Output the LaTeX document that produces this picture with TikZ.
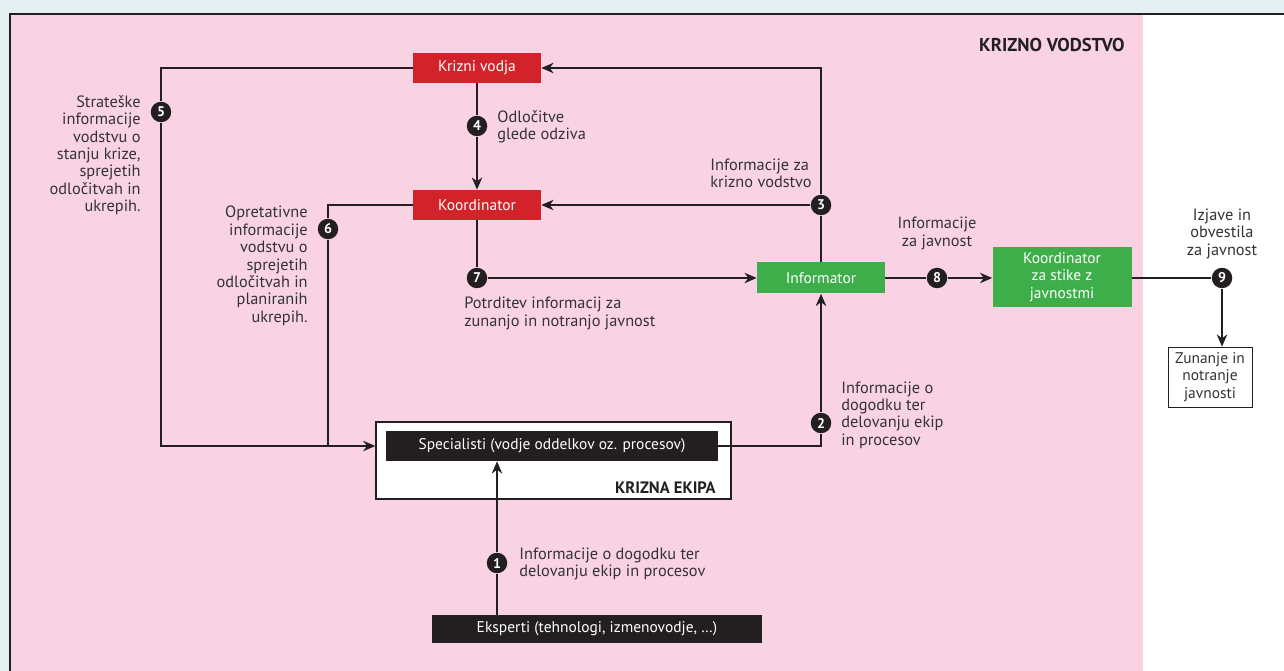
\documentclass[tikz,border=0pt]{standalone}
\usepackage{fontspec}
\setmainfont{PT Sans}
\usetikzlibrary{arrows.meta,positioning}
\definecolor{bgblue}{HTML}{E4F0F2}
\definecolor{pinkbg}{HTML}{F9D3E4}
\definecolor{kred}{HTML}{D2232A}
\definecolor{kgreen}{HTML}{3DAE49}
\definecolor{ink}{HTML}{231F20}
\definecolor{txt}{HTML}{333333}
\newcommand{\boxfont}{\fontsize{8.8}{9.9}\selectfont}
\newcommand{\lblfont}{\fontsize{9.3}{9.9}\selectfont}
\tikzset{
  redbox/.style={fill=kred, text=white, minimum width=2.56cm, minimum height=0.6cm, inner sep=0pt, font=\boxfont},
  greenbox/.style={fill=kgreen, text=white, inner sep=0pt, align=center, font=\boxfont},
  blackbox/.style={fill=ink, text=white, inner sep=0pt, font=\boxfont},
  num/.style={circle, fill=ink, text=white, inner sep=0pt, minimum size=0.41cm, font=\footnotesize\bfseries},
  lbl/.style={text=txt, inner sep=0pt, font=\lblfont},
  conn/.style={draw=ink, line width=0.7pt},
  arr/.style={conn, -{Stealth[length=7pt,width=6pt]}}
}
\begin{document}
\begin{tikzpicture}[x=0.02cm, y=-0.02cm]
    \useasboundingbox (0,0) rectangle (1284,671) ;
    % background and frame
    \fill [bgblue] (0,0) rectangle (1284,671) ;
    \fill [pinkbg] (10,14) rectangle (1143,671) ;
    \fill [white] (1143,14) rectangle (1284,671) ;
    \draw [ink, line width=1.3pt] (10,671) -- (10,14) -- (1284,14) ;
    \node [font=\fontsize{10.6}{12}\selectfont\bfseries, text=ink, inner sep=0pt, anchor=east] at (1125,45) (vodstvo) {KRIZNO VODSTVO} ;

    % boxes
    \node [redbox] at (477,68) (vodja) {Krizni vodja} ;
    \node [redbox] at (477,205) (koord) {Koordinator} ;
    \node [greenbox, minimum width=2.56cm, minimum height=0.62cm] at (821,278) (inf) {Informator} ;
    \node [greenbox, minimum width=2.78cm, minimum height=1.2cm] at (1062,277) (stiki) {Koordinator\\za stike z\\javnostmi} ;
    \node [draw=ink, fill=white, text=txt, align=center, inner sep=0pt, minimum width=1.68cm, minimum height=1.2cm, font=\boxfont] at (1210,377) (zun) {Zunanje in\\notranje\\javnosti} ;
    \node [draw=ink, line width=0.8pt, fill=white, minimum width=7.1cm, minimum height=1.54cm] at (553.5,460.5) (ekipa) {} ;
    \node [blackbox, minimum width=6.64cm, minimum height=0.6cm] at (552,446) (spec) {Specialisti (vodje oddelkov oz. procesov)} ;
    \node [font=\fontsize{9.4}{11}\selectfont\bfseries, text=ink, inner sep=0pt, anchor=east] at (716,488) (ekipalbl) {KRIZNA EKIPA} ;
    \node [blackbox, minimum width=6.6cm, minimum height=0.56cm] at (597,629) (eksp) {Eksperti (tehnologi, izmenovodje, …)} ;

    % numbers
    \node [num] at (497,563) (n1) {1} ;
    \node [num] at (821,423) (n2) {2} ;
    \node [num] at (821,205) (n3) {3} ;
    \node [num] at (477,126) (n4) {4} ;
    \node [num] at (161,112) (n5) {5} ;
    \node [num] at (328,229) (n6) {6} ;
    \node [num] at (477,278) (n7) {7} ;
    \node [num] at (937,278) (n8) {8} ;
    \node [num] at (1222,278) (n9) {9} ;

    % connectors
    \draw [conn] (vodja.west) -| (n5) ;
    \draw [arr] (n5) |- (spec -| ekipa.west) ;
    \draw [conn] (koord.west) -| (n6) ;
    \draw [conn] (n6) -- (n6 |- spec) ;
    \draw [conn] (vodja.south) -- (n4) ;
    \draw [arr] (n4) -- (koord.north) ;
    \draw [conn] (inf.north) -- (n3) ;
    \draw [arr] (n3) -- (koord.east) ;
    \draw [arr] (n3) |- (vodja.east) ;
    \draw [conn] (koord.south) -- (n7) ;
    \draw [arr] (n7) -- (inf.west) ;
    \draw [conn] (spec.east) -| (n2) ;
    \draw [arr] (n2) -- (inf.south) ;
    \draw [conn] (inf.east) -- (n8) ;
    \draw [arr] (n8) -- (stiki.west |- n8) ;
    \draw [conn] (stiki.east |- n9) -- (n9) ;
    \draw [arr] (n9) -- (n9 |- zun.north) ;
    \draw [conn] (eksp.north -| n1) -- (n1) ;
    \draw [arr] (n1) -- (n1 |- spec.south) ;

    % labels
    \node [lbl, align=right, anchor=north east] at (141,95) (l5) {Strateške\\informacije\\vodstvu o\\stanju krize,\\sprejetih\\odločitvah in\\ukrepih.} ;
    \node [lbl, align=right, anchor=north east] at (308,206) (l6) {Opretativne\\informacije\\vodstvu o\\sprejetih\\odločitvah in\\planiranih\\ukrepih.} ;
    \node [lbl, align=left, anchor=west] at (497,127) (l4) {Odločitve\\glede odziva} ;
    \node [lbl, align=left, anchor=south east] at (812,188) (l3) {Informacije za\\krizno vodstvo} ;
    \node [lbl, align=left, anchor=north west] at (464,297) (l7) {Potrditev informacij za\\zunanjo in notranjo javnost} ;
    \node [lbl, align=left, anchor=west] at (841,415) (l2) {Informacije o\\dogodku ter\\delovanju ekip\\in procesov} ;
    \node [lbl, align=center, anchor=south] at (937,250) (l8) {Informacije\\za javnost} ;
    \node [lbl, align=center, anchor=south] at (1222,259) (l9) {Izjave in\\obvestila\\za javnost} ;
    \node [lbl, align=left, anchor=west] at (519,564) (l1) {Informacije o dogodku ter\\delovanju ekip in procesov} ;
\end{tikzpicture}
\end{document}
